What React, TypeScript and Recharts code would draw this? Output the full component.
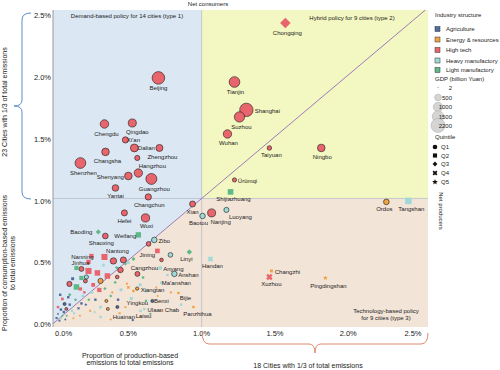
import React from 'react';
import { ScatterChart, Scatter, XAxis, YAxis, ZAxis, ReferenceArea } from 'recharts';

const FONT = '"Liberation Sans", Arial, Helvetica, sans-serif';

// ---- categories ----
const industries = ['Agriculture', 'Energy & resources', 'High tech', 'Heavy manufactory', 'Light manufactory'];
const industryColors = ['#4d6f9e', '#f1a242', '#e9656d', '#9fd8d7', '#5dba86'];
const quintiles = ['Q1', 'Q2', 'Q3', 'Q4', 'Q5'];
const gdpLegend = [2, 500, 1000, 1500, 2200];
const xTicks = [0, 0.5, 1, 1.5, 2, 2.5];
const yTicks = [0, 0.5, 1, 1.5, 2, 2.5];
const X_DOMAIN: [number, number] = [-0.014, 2.544];
const Y_DOMAIN: [number, number] = [-0.041, 2.526];

// ---- labelled cities ----
const cityNames = ['Beijing', 'Chengdu', 'Qingdao', "Xi'an", 'Dalian', 'Zhengzhou', 'Changsha', 'Hangzhou', 'Shenyang', 'Shenzhen',
  'Guangzhou', 'Yantai', 'Changchun', 'Hefei', 'Wuxi', 'Xian', 'Baotou', 'Nanjing', 'Luoyang', 'Shijiazhuang',
  'Ürümqi', 'Tianjin', 'Shanghai', 'Suzhou', 'Wuhan', 'Taiyuan', 'Ningbo', 'Chongqing', 'Ordos', 'Tangshan',
  'Changzhi', 'Xuzhou', 'Pingdingshan', 'Handan', 'Linyi', 'Zibo', 'Jining', 'Weifang', 'Shaoxing', 'Baoding',
  'Nantong', 'Nanning', 'Jinhua', 'Cangzhou', 'Anyang', 'Anshan', "Ma'anshan", 'Xiangtan', 'Benxi', 'Bijie',
  'Ulaan Chab', 'Panzhihua', 'Yingkou', 'Huainan', 'Laiwu'];
const cityProd = [0.705, 0.337, 0.527, 0.48, 0.541, 0.712, 0.344, 0.568, 0.5, 0.173,
  0.657, 0.412, 0.636, 0.473, 0.617, 0.938, 1.006, 1.068, 1.169, 1.197,
  1.224, 1.224, 1.305, 1.258, 1.176, 1.462, 1.816, 1.571, 2.26, 2.41,
  1.476, 1.462, 1.844, 1.06, 0.916, 0.677, 0.698, 0.568, 0.343, 0.295,
  0.398, 0.248, 0.18, 0.562, 0.718, 0.814, 0.725, 0.535, 0.664, 0.842,
  0.609, 0.944, 0.425, 0.36, 0.583];
const cityCons = [1.976, 1.603, 1.611, 1.474, 1.409, 1.409, 1.377, 1.206, 1.182, 1.287,
  1.158, 1.085, 1.012, 0.883, 0.842, 0.955, 0.858, 0.883, 0.907, 1.053,
  1.15, 1.943, 1.717, 1.66, 1.522, 1.409, 1.409, 2.421, 0.972, 0.98,
  0.413, 0.364, 0.356, 0.51, 0.567, 0.664, 0.575, 0.705, 0.696, 0.729,
  0.494, 0.534, 0.429, 0.389, 0.437, 0.389, 0.316, 0.251, 0.17, 0.235,
  0.105, 0.121, 0.121, 0.105, 0.089];
const cityGdp = [1780, 814, 730, 437, 700, 555, 640, 780, 660, 1295,
  1355, 490, 445, 416, 757, 400, 340, 720, 300, 430,
  200, 1288, 2018, 1201, 800, 230, 652, 1141, 360, 580,
  120, 400, 170, 300, 300, 355, 300, 400, 365, 270,
  455, 250, 270, 280, 170, 340, 100, 130, 110, 90,
  80, 80, 100, 100, 80];
const cityIndustry = [2, 2, 2, 2, 2, 2, 2, 2, 2, 2,
  2, 2, 2, 2, 2, 2, 3, 2, 3, 4,
  2, 2, 2, 2, 2, 2, 2, 2, 1, 3,
  1, 2, 1, 3, 4, 3, 2, 4, 2, 4,
  2, 2, 2, 2, 3, 3, 3, 1, 0, 1,
  3, 1, 0, 1, 3];
const cityQuintile = [1, 1, 1, 1, 1, 1, 1, 1, 1, 1,
  1, 1, 1, 1, 1, 1, 1, 1, 1, 2,
  1, 1, 1, 1, 1, 1, 1, 3, 1, 2,
  2, 4, 5, 4, 3, 1, 2, 2, 1, 3,
  1, 2, 1, 1, 2, 1, 2, 3, 1, 4,
  2, 2, 1, 1, 2];

// ---- other (unlabelled) cities ----
const otherProd = [0.337, 0.228, 0.228, 0.289, 0.357, 0.31, 0.466, 0.446, 0.098, 0.207,
  0.214, 0.302, 0.424, 0.146, 0.146, 0.18, 0.535, 0.638, 0.726, 0.787,
  0.173, 0.05, 0.077, 0.26, 0.12, 0.33, 0.42, 0.5, 0.1, 0.04,
  0.01, 0.02, 0.04, 0.06, 0.08, 0.1, 0.115, 0.14, 0.16, 0.19,
  0.09, 0.21, 0.23, 0.25, 0.275, 0.24, 0.17, 0.31, 0.125, 0.065,
  0.02, 0.035, 0.38, 0.34, 0.03, 0.07, 0.13, 0.18, 0.2, 0.05,
  0.45, 0.39, 0.5, 0.58, 0.49, 0.56, 0.62, 0.41, 0.6, 0.69,
  0.79, 0.52, 0.43, 0.48, 0.65, 0.58, 0.72, 0.31, 0.38, 0.53,
  0.86, 0.767, 0.48, 0.35, 0.27, 0.44, 0.62, 0.7, 0.561];
const otherCons = [0.526, 0.486, 0.413, 0.397, 0.372, 0.332, 0.502, 0.421, 0.308, 0.332,
  0.364, 0.259, 0.364, 0.437, 0.283, 0.356, 0.51, 0.632, 0.502, 0.543,
  0.267, 0.186, 0.105, 0.3, 0.35, 0.46, 0.44, 0.48, 0.22, 0.1,
  0.032, 0.065, 0.03, 0.08, 0.05, 0.14, 0.09, 0.18, 0.11, 0.21,
  0.2, 0.14, 0.18, 0.24, 0.18, 0.09, 0.05, 0.12, 0.03, 0.145,
  0.12, 0.22, 0.21, 0.27, 0.01, 0.02, 0.07, 0.15, 0.24, 0.05,
  0.26, 0.24, 0.28, 0.3, 0.31, 0.27, 0.25, 0.32, 0.36, 0.28,
  0.24, 0.19, 0.18, 0.12, 0.065, 0.04, 0.09, 0.04, 0.02, 0.015,
  0.14, 0.38, 0.47, 0.17, 0.08, 0.07, 0.17, 0.21, 1.328];
const otherGdp = [500, 250, 500, 420, 420, 300, 420, 350, 300, 180,
  200, 250, 150, 250, 420, 250, 150, 250, 150, 250,
  150, 100, 100, 200, 120, 150, 120, 100, 120, 80,
  60, 60, 60, 80, 60, 80, 80, 100, 80, 100,
  80, 80, 100, 120, 80, 60, 60, 100, 60, 100,
  80, 80, 100, 120, 50, 60, 60, 80, 80, 60,
  120, 80, 100, 120, 80, 120, 100, 100, 100, 60,
  80, 120, 80, 60, 80, 60, 60, 80, 60, 60,
  80, 80, 100, 100, 80, 60, 80, 60, 300];
const otherIndustry = [2, 2, 2, 2, 2, 1, 2, 2, 2, 2,
  3, 2, 2, 4, 4, 4, 4, 2, 2, 3,
  2, 2, 2, 2, 0, 3, 4, 3, 4, 0,
  0, 0, 3, 0, 4, 0, 3, 4, 0, 3,
  0, 0, 4, 3, 0, 1, 1, 3, 1, 0,
  2, 0, 4, 4, 0, 0, 3, 0, 2, 4,
  3, 1, 1, 3, 1, 1, 3, 4, 4, 1,
  1, 3, 0, 1, 4, 1, 1, 3, 1, 0,
  3, 3, 4, 1, 3, 1, 4, 1, 2];
const otherQuintile = [2, 2, 2, 2, 2, 1, 1, 1, 1, 1,
  1, 2, 1, 2, 2, 2, 3, 1, 1, 1,
  2, 2, 1, 2, 2, 3, 3, 2, 3, 2,
  2, 3, 2, 2, 3, 2, 2, 3, 4, 2,
  2, 3, 3, 2, 2, 4, 3, 2, 5, 1,
  2, 2, 3, 3, 2, 3, 2, 2, 2, 3,
  2, 3, 4, 2, 3, 1, 2, 3, 4, 5,
  3, 2, 2, 4, 3, 5, 4, 2, 3, 2,
  2, 2, 3, 1, 3, 2, 4, 3, 1];

// label placement (offset of label centre from the point, px)
const labelOffsets: Record<string, [number, number]> = {
  Beijing: [0, 10], Chengdu: [2, 10], Qingdao: [5, 9], "Xi'an": [8, 0], Dalian: [12, 0], Zhengzhou: [3, 9],
  Changsha: [2, 9], Hangzhou: [14, -7], Shenyang: [-18, 1], Shenzhen: [3, 10], Guangzhou: [3, 10], Yantai: [0, 8],
  Changchun: [1, 8], Hefei: [0, 8], Wuxi: [1, 8], Xian: [0, 8], Baotou: [-4, 7], Nanjing: [9, 9], Luoyang: [14, 7],
  Shijiazhuang: [3, 7], 'Ürümqi': [13, 1], Tianjin: [1, 10], Shanghai: [21, 1], Suzhou: [2, 10], Wuhan: [1, 9],
  Taiyuan: [2, 7], Ningbo: [1, 9], Chongqing: [2, 10], Ordos: [-2, 7], Tangshan: [3, 8], Changzhi: [16, 1],
  Xuzhou: [2, 7], Pingdingshan: [3, 8], Handan: [2, 7], Linyi: [-3, 7], Zibo: [10, 1], Jining: [-10, 4],
  Weifang: [-13, 1], Shaoxing: [-4, 7], Baoding: [-17, 0], Nantong: [4, -10], Nanning: [-9, 1], Jinhua: [-1, -6],
  Cangzhou: [7, -6], Anyang: [13, 1], Anshan: [14, 1], "Ma'anshan": [15, 0], Xiangtan: [19, -1], Benxi: [9, 0],
  Bijie: [7, 5], 'Ulaan Chab': [19, 1], Panzhihua: [4, 7], Yingkou: [20, -4], Huainan: [16, 8], Laiwu: [3, 5],
};

const cityData = cityNames.map((name, i) => ({
  name, prod: cityProd[i], cons: cityCons[i], gdp: cityGdp[i], ind: cityIndustry[i], q: cityQuintile[i],
}));
const otherData = otherProd.map((p, i) => ({
  name: '', prod: p, cons: otherCons[i], gdp: otherGdp[i], ind: otherIndustry[i], q: otherQuintile[i],
}));

function Glyph({ cx, cy, r, q, fill, outline = true }: any) {
  if (q === 1) return <circle cx={cx} cy={cy} r={r} fill={fill} stroke={outline ? '#1a1a1a' : 'none'} strokeWidth={0.6} />;
  if (q === 2) {
    const s = r * 0.9;
    return <rect x={cx - s} y={cy - s} width={2 * s} height={2 * s} fill={fill} />;
  }
  if (q === 3) {
    const d = r * 1.05;
    return <polygon points={`${cx},${cy - d} ${cx + d},${cy} ${cx},${cy + d} ${cx - d},${cy}`} fill={fill} />;
  }
  if (q === 4) {
    const L = r * 1.1, w = r * 0.4, c = Math.SQRT1_2;
    const base = [[w, L], [w, w], [L, w], [L, -w], [w, -w], [w, -L], [-w, -L], [-w, -w], [-L, -w], [-L, w], [-w, w], [-w, L]];
    const pts = base.map(([x, y]) => `${cx + (x * c - y * c)},${cy + (x * c + y * c)}`).join(' ');
    return <polygon points={pts} fill={fill} />;
  }
  const R = r * 1.3, ri = R * 0.45;
  const pts: string[] = [];
  for (let k = 0; k < 10; k++) {
    const a = -Math.PI / 2 + (k * Math.PI) / 5;
    const rr = k % 2 === 0 ? R : ri;
    pts.push(`${cx + rr * Math.cos(a)},${cy + rr * Math.sin(a)}`);
  }
  return <polygon points={pts.join(' ')} fill={fill} />;
}

function Marker(props: any) {
  const { cx, cy, payload } = props;
  if (cx == null || cy == null || !payload) return null;
  const r = Math.max(0.9, (props.width ?? 3) / 2);
  return <Glyph cx={cx} cy={cy} r={r} q={payload.q} fill={industryColors[payload.ind]} />;
}

function CityLabel(props: any) {
  const { cx, cy, payload } = props;
  if (cx == null || cy == null || !payload) return null;
  const off = labelOffsets[payload.name] ?? [0, 8];
  return (
    <text x={cx + off[0]} y={cy + off[1]} dy="0.35em" textAnchor="middle" fontSize={6} fill="#222" fontFamily={FONT}>
      {payload.name}
    </text>
  );
}

// background regions, computed from the unit rectangle [0,1]x[0,1] that Recharts hands over
function Backgrounds(p: any) {
  const { x, y, width, height } = p;
  const X = (v: number) => x + v * width;
  const Y = (v: number) => y + height - v * height;
  const [xl, xh] = X_DOMAIN;
  const [yl, yh] = Y_DOMAIN;
  const pt = (a: number, b: number) => `${X(a)},${Y(b)}`;
  return (
    <g>
      <polygon points={[pt(xl, xl), pt(1, 1), pt(1, yh), pt(xl, yh)].join(' ')} fill="#dbe7f2" />
      <polygon points={[pt(xl, yl), pt(xl, xl), pt(1, 1), pt(xh, 1), pt(xh, yl)].join(' ')} fill="#f3e4d8" />
      <polygon points={[pt(1, 1), pt(xh, 1), pt(xh, yh), pt(1, yh)].join(' ')} fill="#f3f7c1" />
      <line x1={X(1)} y1={Y(yl)} x2={X(1)} y2={Y(yh)} stroke="#b9bdca" strokeWidth={0.8} />
      <line x1={X(xl)} y1={Y(1)} x2={X(xh)} y2={Y(1)} stroke="#b9bdca" strokeWidth={0.8} />
      <line x1={X(xl)} y1={Y(xl)} x2={X(yh)} y2={Y(yh)} stroke="#9d7bb7" strokeWidth={1} />
    </g>
  );
}

const pct = (v: number) => `${v.toFixed(1)}%`;

function XTick(props: any) {
  const { x, y, payload } = props;
  const v = payload.value;
  const anchor = v === xTicks[0] ? 'start' : v === xTicks[xTicks.length - 1] ? 'end' : 'middle';
  return (
    <text x={x} y={y} dy="0.71em" textAnchor={anchor} fontSize={7.5} fill="#222" fontFamily={FONT}>{pct(v)}</text>
  );
}

function YTick(props: any) {
  const { x, y, payload } = props;
  return (
    <text x={x} y={y + 2.5} dy="0.35em" textAnchor="end" fontSize={7.5} fill="#222" fontFamily={FONT}>{pct(payload.value)}</text>
  );
}

const t6 = { fontSize: 6, fill: '#222', fontFamily: FONT } as const;
const t7 = { fontSize: 7, fill: '#222', fontFamily: FONT } as const;

function Overlay() {
  const legendY = [29, 39.5, 50, 60.5, 70];
  const sizeY = [87.5, 97.5, 107, 116.5, 125.5];
  const qY = [147, 155.5, 164, 173, 182];
  return (
    <svg width={500} height={370} style={{ position: 'absolute', left: 0, top: 0, pointerEvents: 'none' }}>
      <text x={208} y={4} dy="0.35em" textAnchor="middle" {...t6}>Net consumers</text>
      <text transform="translate(441,211) rotate(90)" dy="0.35em" textAnchor="middle" {...t6}>Net producers</text>
      <text x={127} y={16} dy="0.35em" textAnchor="middle" {...t6}>Demand-based policy for 14 cities (type 1)</text>
      <text x={352} y={18} dy="0.35em" textAnchor="middle" {...t6}>Hybrid policy for 9 cities (type 2)</text>
      <text x={386} y={311} dy="0.35em" textAnchor="middle" {...t6}>Technology-based policy</text>
      <text x={386} y={318} dy="0.35em" textAnchor="middle" {...t6}>for 9 cities (type 3)</text>

      {/* axis titles */}
      <text transform="translate(5,263) rotate(-90)" dy="0.35em" textAnchor="middle" {...t7}>Proportion of consumption-based emissions</text>
      <text transform="translate(13,263) rotate(-90)" dy="0.35em" textAnchor="middle" {...t7}>to total emissions</text>
      <text x={130} y={356} dy="0.35em" textAnchor="middle" {...t7}>Proportion of production-based</text>
      <text x={130} y={363} dy="0.35em" textAnchor="middle" {...t7}>emissions to total emissions</text>

      {/* brackets */}
      <path d="M31,13 Q22,13 22,20 L22,100 Q22,106 14,106 Q22,106 22,112 L22,192 Q22,199 31,199" fill="none" stroke="#5a8dc8" strokeWidth={1} />
      <text transform="translate(5,102) rotate(-90)" dy="0.35em" textAnchor="middle" {...t7}>23 Cities with 1/3 of total emissions</text>
      <path d="M202,331 Q202,344 209,344 L309,344 Q315,344 315,353 Q315,344 321,344 L421,344 Q428,344 428,333" fill="none" stroke="#e08a6e" strokeWidth={1} />
      <text x={308} y={366} dy="0.35em" textAnchor="middle" {...t7}>18 Cities with 1/3 of total emissions</text>

      {/* legend: industry */}
      <text x={435} y={15} dy="0.35em" {...t6}>Industry structure</text>
      {industries.map((name, i) => (
        <g key={name}>
          <rect x={435} y={legendY[i] - 2.5} width={5} height={5} fill={industryColors[i]} stroke="#333" strokeWidth={0.5} />
          <text x={446} y={legendY[i]} dy="0.35em" {...t6}>{name}</text>
        </g>
      ))}
      {/* legend: GDP */}
      <text x={435} y={79} dy="0.35em" {...t6}>GDP (billion Yuan)</text>
      {gdpLegend.map((g, i) => (
        <g key={g}>
          <circle cx={438} cy={sizeY[i]} r={Math.max(0.5, 7 * Math.sqrt(g / 2200))} fill="#d4d4d4" stroke="#a8a8a8" strokeWidth={0.5} />
          <text x={452} y={sizeY[i]} dy="0.35em" textAnchor="end" {...t6}>{g}</text>
        </g>
      ))}
      {/* legend: quintile */}
      <text x={435} y={137} dy="0.35em" {...t6}>Quintile</text>
      {quintiles.map((q, i) => (
        <g key={q}>
          <Glyph cx={435} cy={qY[i]} r={2.3} q={i + 1} fill="#111" outline={false} />
          <text x={441} y={qY[i]} dy="0.35em" {...t6}>{q}</text>
        </g>
      ))}
    </svg>
  );
}

export default function App() {
  return (
    <div style={{ position: 'absolute', left: 0, top: 0, width: 500, height: 370, background: '#fff' }}>
      <ScatterChart width={500} height={370} margin={{ top: 10, right: 72, bottom: 23, left: 8 }}>
        <XAxis type="number" dataKey="prod" domain={X_DOMAIN} ticks={xTicks} allowDataOverflow
          axisLine={false} tickLine={false} tickSize={0} tickMargin={4} height={20} tick={XTick} interval={0} />
        <YAxis type="number" dataKey="cons" domain={Y_DOMAIN} ticks={yTicks} allowDataOverflow
          axisLine={{ stroke: '#9a9a9a' }} tickLine={false} tickSize={0} tickMargin={2} width={45} tick={YTick} interval={0} />
        <ZAxis type="number" dataKey="gdp" domain={[0, 2200]} range={[0, 154]} />
        <ReferenceArea x1={0} x2={1} y1={0} y2={1} ifOverflow="visible" shape={Backgrounds} />
        <Scatter data={otherData} shape={Marker} isAnimationActive={false} />
        <Scatter data={cityData} shape={Marker} isAnimationActive={false} />
        <Scatter data={cityData} shape={CityLabel} isAnimationActive={false} />
      </ScatterChart>
      <Overlay />
    </div>
  );
}
